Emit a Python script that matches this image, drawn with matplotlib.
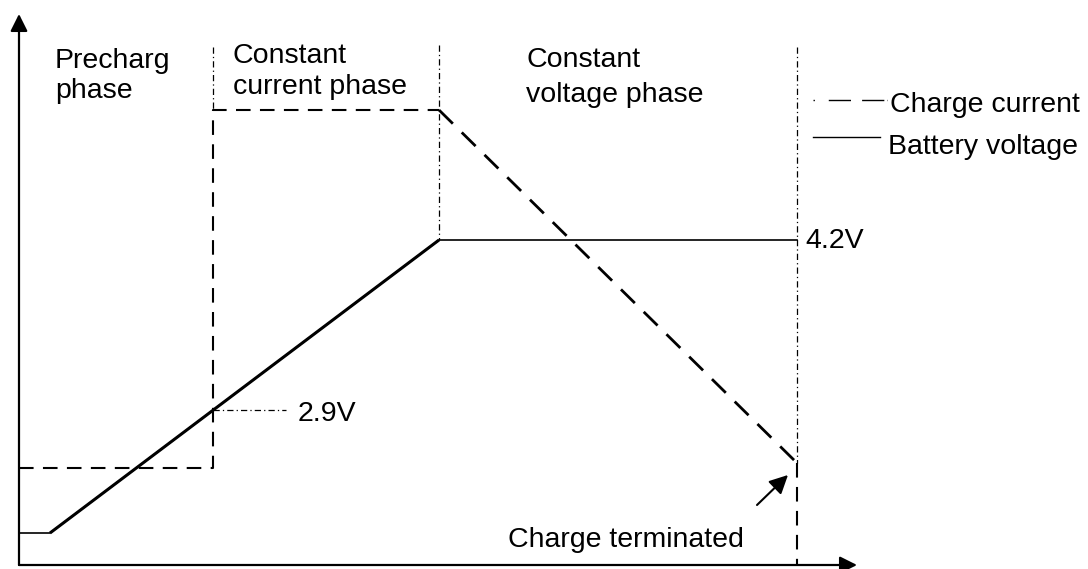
import matplotlib
matplotlib.use("Agg")
import matplotlib.pyplot as plt

# ---- data (time units along x, signal level units along y) ----
phase_bounds = [194, 420, 778]          # start CC, start CV, termination
phase_top = 518

current_t = [0, 194, 194, 420, 778, 778]
current_v = [97, 97, 455, 455, 102, 0]

voltage_t = [0, 31, 420, 778]
voltage_v = [32, 32, 325, 325]

v29_t, v29_v = 194, 155
v42_v = 325

phase_labels = [("Precharg", "phase"), ("Constant", "current phase"), ("Constant", "voltage phase")]
phase_label_t = [36, 214, 507]
phase_label_base = [(497, 467), (502, 471), (498, 463)]

legend_labels = ["Charge current", "Battery voltage"]

FS = 20.5
FONT = "Liberation Sans"

fig = plt.figure(figsize=(10.88, 5.69), dpi=100)
ax = fig.add_axes([19 / 1088, 4 / 569, 1 - 19 / 1088, 565 / 569])
ax.set_xlim(0, 1069)
ax.set_ylim(0, 565)
ax.axis("off")

dashdot = dict(color="black", lw=0.9, dashes=(5, 2.5, 1, 2.5), clip_on=False)

# phase boundary lines (dash-dot)
ax.plot([phase_bounds[0]] * 2, [phase_top, current_v[2]], **dashdot)
ax.plot([phase_bounds[1]] * 2, [phase_top + 2, voltage_v[2]], **dashdot)
ax.plot([phase_bounds[2]] * 2, [phase_top, current_v[4]], **dashdot)

# charge current (dashed)
ax.plot(current_t[:4], current_v[:4], color="black", lw=1.5, dashes=(7, 4.5), clip_on=False)
ax.plot(current_t[3:5], current_v[3:5], color="black", lw=2.0, dashes=(7, 4.5), clip_on=False)
ax.plot(current_t[4:], current_v[4:], color="black", lw=1.5, dashes=(7, 4.5), clip_on=False)

# battery voltage (solid)
ax.plot(voltage_t, voltage_v, color="black", lw=1.2, solid_joinstyle="miter", clip_on=False)
ax.plot(voltage_t[1:3], voltage_v[1:3], color="black", lw=2.2, solid_capstyle="butt")

# 2.9V marker
ax.plot([v29_t, v29_t + 73], [v29_v, v29_v], **dashdot)
ax.text(v29_t + 85, v29_v - 11, "2.9V", fontsize=FS, family=FONT, va="baseline", ha="left")
ax.text(phase_bounds[2] + 8, v42_v - 8, "4.2V", fontsize=FS, family=FONT, va="baseline", ha="left")

# phase labels
for (l1, l2), t, (b1, b2) in zip(phase_labels, phase_label_t, phase_label_base):
    ax.text(t, b1, l1, fontsize=FS, family=FONT, va="baseline", ha="left")
    ax.text(t, b2, l2, fontsize=FS, family=FONT, va="baseline", ha="left")

# legend
ax.plot([794, 868], [465, 465], color="black", lw=1.0, dashes=(1, 10, 16, 8, 16, 2), clip_on=False)
ax.text(871, 453, legend_labels[0], fontsize=FS, family=FONT, va="baseline", ha="left")
ax.plot([794, 861], [428, 428], color="black", lw=1.0, clip_on=False)
ax.text(869, 411, legend_labels[1], fontsize=FS, family=FONT, va="baseline", ha="left")

# charge terminated annotation
ax.annotate("", xy=(769, 90), xytext=(738, 60),
            arrowprops=dict(arrowstyle="-|>", lw=1.5, color="black", mutation_scale=28, shrinkA=0, shrinkB=0))
ax.text(489, 18, "Charge terminated", fontsize=FS, family=FONT, va="baseline", ha="left")

# axes with arrows
ax.annotate("", xy=(0, 551), xytext=(0, 0),
            arrowprops=dict(arrowstyle="-|>", lw=1.6, color="black", mutation_scale=26, shrinkA=0, shrinkB=0),
            annotation_clip=False)
ax.annotate("", xy=(838, 0), xytext=(0, 0),
            arrowprops=dict(arrowstyle="-|>", lw=1.6, color="black", mutation_scale=26, shrinkA=0, shrinkB=0),
            annotation_clip=False)

fig.savefig("out.png", dpi=100)
